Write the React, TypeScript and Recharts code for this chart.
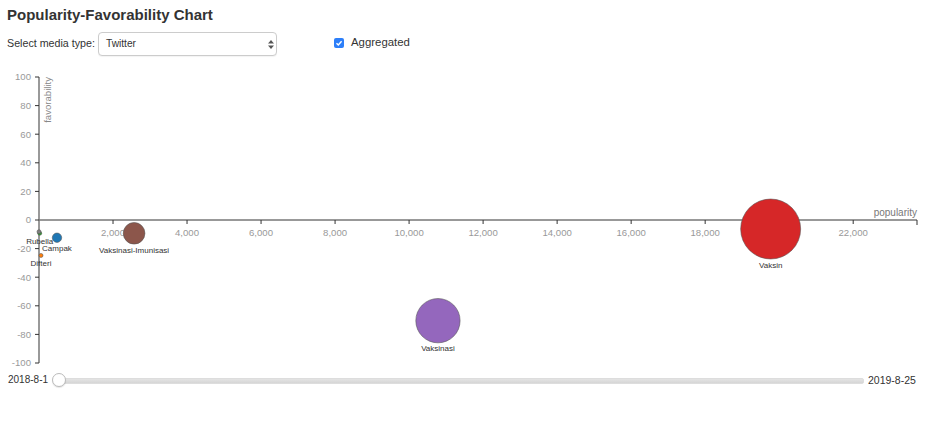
import React from "react";
import {
  ScatterChart,
  Scatter,
  XAxis,
  YAxis,
  ReferenceLine,
  ReferenceDot,
} from "recharts";

// topics shown as bubbles (aggregated, Twitter)
const topics = [
  "Campak",
  "Difteri",
  "Rubella",
  "Vaksin",
  "Vaksinasi",
  "Vaksinasi-Imunisasi",
  "",
];
const popularity = [486, 54, 19, 19770, 10780, 2570, 0];
const favorability = [-12.4, -24.8, -9.3, -6.3, -70.4, -9.3, -8.2];
const colors = [
  "#1f77b4",
  "#ff7f0e",
  "#2ca02c",
  "#d62728",
  "#9467bd",
  "#8c564b",
  "#7f7f7f",
];

const xTicks = [2000, 4000, 6000, 8000, 10000, 12000, 14000, 16000, 18000, 20000, 22000];
const yTicks = [-100, -80, -60, -40, -20, 0, 20, 40, 60, 80, 100];

const startDate = "2018-8-1";
const endDate = "2019-8-25";

const maxPop = Math.max(...popularity);
const xMax = maxPop * 1.2;
const maxRadius = 30;

const points = topics.map((name, i) => ({
  name,
  popularity: popularity[i],
  favorability: favorability[i],
  color: colors[i],
}));

const FONT = "'Liberation Sans', Arial, Helvetica, sans-serif";

const Bubble = (props: any) => {
  const { cx, cy } = props;
  const p = props.payload ?? props;
  const r = Math.max(2, maxRadius * Math.sqrt(p.popularity / maxPop));
  return (
    <g>
      <circle cx={cx} cy={cy} r={r} fill={p.color} stroke="#555" strokeOpacity={0.7} strokeWidth={0.8} />
      {p.name && (
        <text x={cx} y={cy + r + 8.5} textAnchor="middle" fontSize={8} fill="#333" fontFamily={FONT}>
          {p.name}
        </text>
      )}
    </g>
  );
};

const fmt = (v: number) => v.toLocaleString("en-US");

const App = () => {
  return (
    <div style={{ position: "absolute", left: 0, top: 0, width: 949, height: 448, fontFamily: FONT, color: "#333" }}>
      <div style={{ position: "absolute", left: 7, top: 6, fontSize: 15, fontWeight: "bold" }}>
        Popularity-Favorability Chart
      </div>
      <div style={{ position: "absolute", left: 7, top: 37, fontSize: 10.7 }}>Select media type:</div>
      <div
        style={{
          position: "absolute",
          left: 98,
          top: 32,
          width: 177,
          height: 22,
          border: "1px solid #ccc",
          borderRadius: 4,
          background: "#fff",
          boxShadow: "0 1px 1px rgba(0,0,0,0.05)",
        }}
      >
        <span style={{ position: "absolute", left: 7, top: 5, fontSize: 10.2 }}>Twitter</span>
        <svg style={{ position: "absolute", left: 169, top: 7 }} width={6} height={9}>
          <path d="M0 3.5 L3 0 L6 3.5 Z" fill="#555" />
          <path d="M0 5.5 L3 9 L6 5.5 Z" fill="#555" />
        </svg>
      </div>
      <svg style={{ position: "absolute", left: 334, top: 38 }} width={11} height={11}>
        <rect x={0} y={0} width={10} height={10} rx={2} fill="#2d7ff9" />
        <path d="M2.5 5.2 L4.3 7 L7.6 3.2" stroke="#fff" strokeWidth={1.4} fill="none" />
      </svg>
      <div style={{ position: "absolute", left: 351, top: 36, fontSize: 11.4 }}>Aggregated</div>

      <div style={{ position: "absolute", left: 0, top: 0 }}>
        <ScatterChart width={949} height={448} margin={{ top: 77, right: 32, bottom: 85, left: 0 }}>
          <XAxis type="number" dataKey="popularity" domain={[0, xMax]} hide height={0} />
          <YAxis
            type="number"
            dataKey="favorability"
            domain={[-100, 100]}
            ticks={yTicks}
            width={39}
            tickSize={4}
            tickMargin={4}
            axisLine={{ stroke: "#777", strokeWidth: 1.5 }}
            tickLine={{ stroke: "#333" }}
            tick={{ fill: "#999", fontSize: 9.6, fontFamily: FONT }}
            label={{
              content: () => (
                <text
                  x={0}
                  y={0}
                  transform="translate(51,77) rotate(-90)"
                  textAnchor="end"
                  fontSize={9.6}
                  fill="#888"
                  fontFamily={FONT}
                >
                  favorability
                </text>
              ),
            }}
          />
          <ReferenceLine y={0} stroke="#333" strokeWidth={1} />
          {xTicks.map((t) => (
            <ReferenceDot
              key={t}
              x={t}
              y={0}
              shape={(p: any) => (
                <g>
                  <line x1={p.cx} y1={p.cy} x2={p.cx} y2={p.cy + 4} stroke="#333" />
                  <text x={p.cx} y={p.cy + 16} textAnchor="middle" fontSize={9.6} fill="#999" fontFamily={FONT}>
                    {fmt(t)}
                  </text>
                </g>
              )}
            />
          ))}
          <ReferenceDot
            x={xMax}
            y={0}
            shape={(p: any) => (
              <g>
                <line x1={p.cx} y1={p.cy} x2={p.cx} y2={p.cy + 5} stroke="#333" />
                <text x={p.cx} y={p.cy - 4} textAnchor="end" fontSize={10} fill="#777" fontFamily={FONT}>
                  popularity
                </text>
              </g>
            )}
          />
          <Scatter data={points} shape={Bubble} isAnimationActive={false} />
        </ScatterChart>
      </div>

      <div style={{ position: "absolute", left: 8, top: 374, fontSize: 10 }}>{startDate}</div>
      <div
        style={{
          position: "absolute",
          left: 60,
          top: 378,
          width: 802,
          height: 4,
          background: "linear-gradient(#e4e4e4, #d6d6d6)",
          border: "1px solid #ddd",
          borderRadius: 2,
        }}
      />
      <div
        style={{
          position: "absolute",
          left: 52,
          top: 373,
          width: 12,
          height: 12,
          borderRadius: "50%",
          background: "#fff",
          border: "1px solid #bbb",
          boxShadow: "0 1px 1px rgba(0,0,0,0.1)",
        }}
      />
      <div style={{ position: "absolute", left: 868, top: 374, fontSize: 10.5 }}>{endDate}</div>
    </div>
  );
};

export default App;
